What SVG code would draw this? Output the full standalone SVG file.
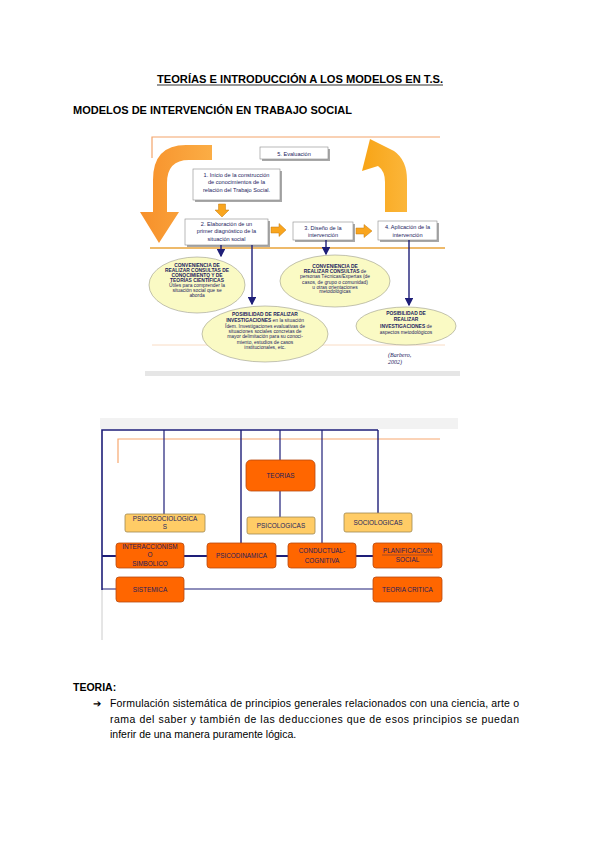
<svg xmlns="http://www.w3.org/2000/svg" width="599" height="848" viewBox="0 0 599 848">
<defs>
<style>
.t{font-family:"Liberation Sans",Arial,sans-serif;fill:#000}
.b{font-weight:bold}
.bx{fill:#fff;stroke:#8a8a8a;stroke-width:0.6}
.sh{fill:#a8a8a8}
.bt{font-family:"Liberation Sans",Arial,sans-serif;font-size:5.6px;fill:#1c1c5e;text-anchor:middle}
.el{fill:#fafac4;stroke:#9a9a8a;stroke-width:0.6}
.et{font-family:"Liberation Sans",Arial,sans-serif;font-size:4.9px;fill:#1c1c5e;text-anchor:middle}
.nv{stroke:#1e1e78;stroke-width:1.4;fill:none}
.sa{fill:#f9a51e;stroke:#c27a10;stroke-width:0.5}
.ob{fill:#ff6600;stroke:#b84a10;stroke-width:0.8}
.lb{fill:#ffcc66;stroke:#a08850;stroke-width:0.8}
.gt{font-family:"Liberation Sans",Arial,sans-serif;font-size:6.4px;fill:#1c1c5e;text-anchor:middle}
.fl{stroke:#1e1e78;fill:none}
</style>
<linearGradient id="gL" x1="0" y1="0" x2="1" y2="0">
<stop offset="0" stop-color="#f7902a"/><stop offset="1" stop-color="#fbad45"/>
</linearGradient>
<linearGradient id="gR" x1="0" y1="0" x2="1" y2="0">
<stop offset="0" stop-color="#f8a416"/><stop offset="1" stop-color="#fbb63a"/>
</linearGradient>
<marker id="ah" markerWidth="6" markerHeight="6" refX="5" refY="3" orient="auto" markerUnits="strokeWidth">
<path d="M0,0 L6,3 L0,6 Z" fill="#1e1e78"/>
</marker>
</defs>
<rect width="599" height="848" fill="#fff"/>

<g id="headings">
<text class="t b" x="300" y="83" font-size="10.5" text-anchor="middle" textLength="286" lengthAdjust="spacingAndGlyphs">TEORÍAS E INTRODUCCIÓN A LOS MODELOS EN T.S.</text>
<line x1="157" y1="85" x2="443" y2="85" stroke="#000" stroke-width="0.8"/>
<text class="t b" x="73" y="114" font-size="10.5" textLength="279" lengthAdjust="spacingAndGlyphs">MODELOS DE INTERVENCIÓN EN TRABAJO SOCIAL</text>
</g>

<!-- Figure 1 -->
<g id="fig1-frame">
<path d="M152,158 L152,137 L440,137" fill="none" stroke="#f4a46a" stroke-width="1.2"/>
<line x1="150" y1="248" x2="445" y2="248" stroke="#e8a33a" stroke-width="1.6"/>
<line x1="152" y1="345" x2="445" y2="345" stroke="#f9dcc4" stroke-width="1"/>
<rect x="145" y="371" width="315" height="5" fill="#e6e6e6"/>
</g>

<g id="arrow-left">
<path d="M212,145 L186,145 Q153,145 153,180 L153,212 L140,212 L159,243 L179,212 L167,212 L167,183 Q167,160 189,160 L212,160 Z" fill="url(#gL)"/>
</g>
<g id="arrow-right">
<path d="M385,212 L385,182 Q385,171 378,166 L362,171 L370,139 L394,151 Q407,160 407,180 L407,212 Z" fill="url(#gR)"/>
</g>

<g id="n5">
<rect class="sh" x="262" y="149" width="68" height="12"/>
<rect class="bx" x="260" y="147" width="68" height="12"/>
<text class="bt" x="294" y="155.5">5. Evaluación</text>
</g>
<g id="n1">
<rect class="sh" x="195" y="171" width="87" height="31"/>
<rect class="bx" x="193" y="169" width="87" height="31"/>
<text class="bt" x="236.5" y="177">1. Inicio de la construcción</text>
<text class="bt" x="236.5" y="184">de conocimientos de la</text>
<text class="bt" x="236.5" y="191.5">relación del Trabajo Social.</text>
</g>
<g id="n2">
<rect class="sh" x="187" y="221" width="83" height="26"/>
<rect class="bx" x="185" y="219" width="83" height="26"/>
<text class="bt" x="226.5" y="226">2. Elaboración de un</text>
<text class="bt" x="226.5" y="233">primer diagnóstico de la</text>
<text class="bt" x="226.5" y="240.5">situación social</text>
</g>
<g id="n3">
<rect class="sh" x="295" y="224" width="60" height="18"/>
<rect class="bx" x="293" y="222" width="60" height="18"/>
<text class="bt" x="323" y="229.5">3. Diseño de la</text>
<text class="bt" x="323" y="237">intervención</text>
</g>
<g id="n4">
<rect class="sh" x="380" y="223" width="59" height="19"/>
<rect class="bx" x="378" y="221" width="59" height="19"/>
<text class="bt" x="407.5" y="229">4. Aplicación de la</text>
<text class="bt" x="407.5" y="236.5">intervención</text>
</g>

<g id="connectors-fig1">
<path class="sa" d="M218.5,204 L225.5,204 L225.5,210 L229,210 L222,217 L215,210 L218.5,210 Z"/>
<path class="sa" d="M271,227 L279,227 L279,223.5 L286,230 L279,236.5 L279,233 L271,233 Z"/>
<path class="sa" d="M356,228 L364,228 L364,224.5 L372,231 L364,237.5 L364,234 L356,234 Z"/>
<line class="nv" x1="221" y1="245" x2="221" y2="256" marker-end="url(#ah)"/>
<line class="nv" x1="252" y1="245" x2="252" y2="304" marker-end="url(#ah)"/>
<line class="nv" x1="326" y1="240" x2="326" y2="254" marker-end="url(#ah)"/>
<line class="nv" x1="409" y1="240" x2="409" y2="305" marker-end="url(#ah)"/>
</g>

<g id="e1">
<ellipse class="el" cx="197" cy="285" rx="48" ry="28"/>
<text class="et b" x="197" y="267">CONVENIENCIA DE</text>
<text class="et b" x="197" y="272">REALIZAR CONSULTAS DE</text>
<text class="et b" x="197" y="277">CONOCIMIENTO Y DE</text>
<text class="et b" x="197" y="282">TEORÍAS CIENTÍFICAS</text>
<text class="et" x="197" y="287">Útiles para comprender la</text>
<text class="et" x="197" y="292">situación social que se</text>
<text class="et" x="197" y="297">aborda</text>
</g>
<g id="e2">
<ellipse class="el" cx="265" cy="334" rx="63" ry="28"/>
<text class="et b" x="265" y="316">POSIBILIDAD DE REALIZAR</text>
<text class="et" x="265" y="321.5"><tspan font-weight="bold">INVESTIGACIONES</tspan> en la situación</text>
<text class="et" x="265" y="327.5">Ídem. Investigaciones evaluativas de</text>
<text class="et" x="265" y="332.5">situaciones sociales concretas de</text>
<text class="et" x="265" y="337.5">mayor delimitación para su conoci-</text>
<text class="et" x="265" y="343.5">miento, estudios de casos</text>
<text class="et" x="265" y="349">institucionales, etc.</text>
</g>
<g id="e3">
<ellipse class="el" cx="335" cy="281" rx="55" ry="26"/>
<text class="et b" x="335" y="268">CONVENIENCIA DE</text>
<text class="et" x="335" y="273"><tspan font-weight="bold">REALIZAR CONSULTAS</tspan> de</text>
<text class="et" x="335" y="278">personas Técnicas/Expertas (de</text>
<text class="et" x="335" y="283.5">casos, de grupo o comunidad)</text>
<text class="et" x="335" y="288.5">u otras orientaciones</text>
<text class="et" x="335" y="293">metodológicas</text>
</g>
<g id="e4">
<ellipse class="el" cx="406" cy="326" rx="50" ry="19"/>
<text class="et b" x="406" y="315">POSIBILIDAD DE</text>
<text class="et b" x="406" y="321">REALIZAR</text>
<text class="et" x="406" y="327.5"><tspan font-weight="bold">INVESTIGACIONES</tspan> de</text>
<text class="et" x="406" y="334">aspectos metodológicos</text>
</g>
<g id="source">
<text x="388" y="357" font-family="Liberation Serif,serif" font-style="italic" font-size="6" fill="#1c1c5e">(Barbero,</text>
<text x="388" y="364" font-family="Liberation Serif,serif" font-style="italic" font-size="6" fill="#1c1c5e">2002)</text>
</g>

<!-- Figure 2 -->
<g id="fig2-frame">
<rect x="100" y="418" width="358" height="11" fill="#f2f2f2"/>
<line x1="102" y1="590" x2="102" y2="640" stroke="#cccccc" stroke-width="1"/>
<path d="M118,463 L118,439 L440,439" fill="none" stroke="#f7a870" stroke-width="1.2"/>
</g>

<g id="connectors-fig2">
<path class="fl" stroke-width="1.6" d="M102,590 L102,430 L378,430"/>
<line class="fl" stroke-width="1.2" x1="164" y1="430" x2="164" y2="514"/>
<line class="fl" stroke-width="1.4" x1="241" y1="430" x2="241" y2="543"/>
<line class="fl" stroke-width="1.2" x1="280" y1="430" x2="280" y2="460"/>
<line class="fl" stroke-width="1.2" x1="280" y1="491" x2="280" y2="517"/>
<line class="fl" stroke-width="1.2" x1="322" y1="430" x2="322" y2="543"/>
<line class="fl" stroke-width="1.4" x1="378" y1="430" x2="378" y2="513"/>
<line class="fl" stroke-width="2" x1="102" y1="556" x2="373" y2="556"/>
<line class="fl" stroke-width="1.2" x1="102" y1="589" x2="373" y2="589"/>
</g>

<g id="teorias">
<rect class="ob" x="246" y="460" width="69" height="31" rx="5"/>
<text class="gt" x="280.5" y="478">TEORIAS</text>
</g>
<g id="psicosociologicas">
<rect class="lb" x="125" y="514" width="80" height="18" rx="2"/>
<text class="gt" x="165" y="520.5">PSICOSOCIOLOGICA</text>
<text class="gt" x="165" y="529">S</text>
</g>
<g id="psicologicas">
<rect class="lb" x="247" y="517" width="68" height="17" rx="2"/>
<text class="gt" x="281" y="528">PSICOLOGICAS</text>
</g>
<g id="sociologicas">
<rect class="lb" x="344" y="513" width="68" height="19" rx="2"/>
<text class="gt" x="378" y="525">SOCIOLOGICAS</text>
</g>
<g id="interaccionismo">
<rect class="ob" x="116" y="543" width="68" height="25" rx="3"/>
<text class="gt" x="150" y="549">INTERACCIONISM</text>
<text class="gt" x="150" y="557">O</text>
<text class="gt" x="150" y="565.5">SIMBOLICO</text>
</g>
<g id="psicodinamica">
<rect class="ob" x="207" y="543" width="69" height="25" rx="3"/>
<text class="gt" x="241.5" y="558">PSICODINAMICA</text>
</g>
<g id="conductual">
<rect class="ob" x="288" y="543" width="68" height="25" rx="3"/>
<text class="gt" x="322" y="553">CONDUCTUAL-</text>
<text class="gt" x="322" y="562.5">COGNITIVA</text>
</g>
<g id="planificacion">
<rect class="ob" x="373" y="543" width="69" height="25" rx="3"/>
<text class="gt" x="407.5" y="553">PLANIFICACION</text>
<line x1="382" y1="555" x2="433" y2="555" stroke="#1c1c5e" stroke-width="0.4"/>
<text class="gt" x="407.5" y="562">SOCIAL</text>
</g>
<g id="sistemica">
<rect class="ob" x="116" y="577" width="68" height="25" rx="3"/>
<text class="gt" x="150" y="592">SISTEMICA</text>
</g>
<g id="teoria-critica">
<rect class="ob" x="373" y="577" width="69" height="25" rx="3"/>
<text class="gt" x="407.5" y="592">TEORIA CRITICA</text>
</g>

<g id="teoria-text">
<text class="t b" x="73" y="691" font-size="10.5">TEORIA:</text>
<text class="t" x="93" y="707" font-size="10">➔</text>
<text class="t" x="110" y="707" font-size="10.5" textLength="409" lengthAdjust="spacing">Formulación sistemática de principios generales relacionados con una ciencia, arte o</text>
<text class="t" x="110" y="722.5" font-size="10.5" textLength="409" lengthAdjust="spacing">rama del saber y también de las deducciones que de esos principios se puedan</text>
<text class="t" x="110" y="738" font-size="10.5">inferir de una manera puramente lógica.</text>
</g>
</svg>
